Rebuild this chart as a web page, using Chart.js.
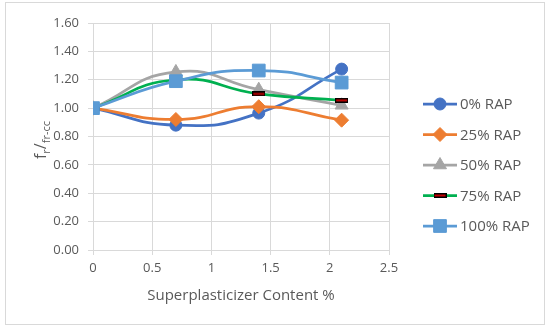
<!DOCTYPE html>
<html>
<head>
<meta charset="utf-8">
<script src="https://cdn.jsdelivr.net/npm/chart.js@4.4.1/dist/chart.umd.min.js"></script>
<style>
  body { margin: 0; background: #fff; }
  #wrap { position: relative; width: 550px; height: 330px; }
  #frame { position: absolute; left: 5px; top: 2px; width: 540px; height: 323px; border: 1px solid #d9d9d9; box-sizing: border-box; pointer-events: none; }
  #ytitle { position: absolute; left: 41px; top: 140px; transform: translate(-50%, -50%) rotate(-90deg); font: 16px "Open Sans"; color: #595959; white-space: nowrap; }
  #ytitle sub { font-size: 11px; }
</style>
</head>
<body>
<div id="wrap">
  <canvas id="chart" width="550" height="330"></canvas>
  <div id="frame"></div>
  <div id="ytitle">f<sub>r</sub>/<sub>fr-cc</sub></div>
</div>
<script>
// data
const spContent = [0, 0.7, 1.4, 2.1];
const seriesNames = ['0% RAP', '25% RAP', '50% RAP', '75% RAP', '100% RAP'];
const rap0 = [1.00, 0.88, 0.965, 1.275];
const rap25 = [1.00, 0.92, 1.01, 0.915];
const rap50 = [1.00, 1.255, 1.13, 1.02];
const rap75 = [1.00, 1.20, 1.10, 1.055];
const rap100 = [1.00, 1.19, 1.265, 1.18];
const xTicks = [0, 0.5, 1, 1.5, 2, 2.5];
const yTicks = [0, 0.2, 0.4, 0.6, 0.8, 1.0, 1.2, 1.4, 1.6];

const fontFamily = '"Open Sans", sans-serif';
const textColor = '#595959';
const gridColor = '#d9d9d9';

// 75% RAP marker is a little dash (black with red core)
function makeDash() {
    const c = document.createElement('canvas');
    c.width = 13;
    c.height = 5;
    const g = c.getContext('2d');
    g.fillStyle = '#000000';
    g.fillRect(0, 0, 13, 5);
    g.fillStyle = '#c00000';
    g.fillRect(1, 1.5, 11, 2);
    return c;
}
const dashMarker = makeDash();

const seriesValues = [rap0, rap25, rap50, rap75, rap100];
const seriesColors = ['#4472c4', '#ed7d31', '#a5a5a5', '#00b050', '#5b9bd5'];
const markerStyles = ['circle', 'rectRot', 'triangle', dashMarker, 'rect'];
const markerSizes = [6, 7, 7.5, 6, 9];

const datasets = seriesNames.map((name, i) => ({
    label: name,
    data: spContent.map((x, j) => ({ x: x, y: seriesValues[i][j] })),
    borderColor: seriesColors[i],
    backgroundColor: seriesColors[i],
    borderWidth: 2.75,
    pointStyle: markerStyles[i],
    pointRadius: markerSizes[i],
    pointHoverRadius: markerSizes[i],
    pointBorderWidth: 1,
    tension: 0.5,
    order: seriesNames.length - i // later series on top, like Excel
}));

// legend on the right: line + marker + label
const sideLegend = {
    id: 'sideLegend',
    afterDraw(chart) {
        const ctx = chart.ctx;
        const x0 = chart.chartArea.right + 34;
        const lineLen = 34;
        const gap = 30.5;
        const yStart = chart.height / 2 - gap * 2;
        ctx.save();
        chart.data.datasets.forEach((ds, i) => {
            const y = yStart + i * gap;
            ctx.strokeStyle = ds.borderColor;
            ctx.lineWidth = ds.borderWidth;
            ctx.beginPath();
            ctx.moveTo(x0, y);
            ctx.lineTo(x0 + lineLen, y);
            ctx.stroke();
            ctx.fillStyle = ds.backgroundColor;
            ctx.lineWidth = 1;
            Chart.helpers.drawPoint(ctx, {
                pointStyle: ds.pointStyle,
                radius: ds.pointRadius,
                borderWidth: 1,
                rotation: 0
            }, x0 + lineLen / 2, y);
            ctx.fillStyle = textColor;
            ctx.font = '15px ' + fontFamily;
            ctx.textBaseline = 'middle';
            ctx.textAlign = 'left';
            ctx.fillText(ds.label, x0 + lineLen + 3, y + 1);
        });
        ctx.restore();
    }
};

new Chart(document.getElementById('chart'), {
    type: 'line',
    data: { datasets: datasets },
    plugins: [sideLegend],
    options: {
        responsive: false,
        animation: false,
        layout: { padding: { left: 10, top: 23, right: 161, bottom: 10 } },
        plugins: {
            legend: { display: false },
            tooltip: { enabled: false }
        },
        scales: {
            x: {
                type: 'linear',
                min: 0,
                max: 2.5,
                afterBuildTicks: s => { s.ticks = xTicks.map(v => ({ value: v })); },
                afterFit: s => { s.height = 70; },
                grid: { color: gridColor, tickLength: 5 },
                border: { color: gridColor },
                ticks: {
                    color: textColor,
                    font: { family: fontFamily, size: 13 },
                    padding: 5,
                    maxRotation: 0,
                    callback: v => String(v)
                },
                title: {
                    display: true,
                    text: 'Superplasticizer Content %',
                    color: textColor,
                    font: { family: fontFamily, size: 15 },
                    padding: { top: 0, bottom: 15 }
                }
            },
            y: {
                min: 0,
                max: 1.6,
                afterBuildTicks: s => { s.ticks = yTicks.map(v => ({ value: v })); },
                afterFit: s => { s.width = 83; },
                grid: { color: gridColor, tickLength: 5 },
                border: { color: gridColor },
                ticks: {
                    color: textColor,
                    font: { family: fontFamily, size: 13 },
                    padding: 9,
                    callback: v => v.toFixed(2)
                }
            }
        }
    }
});
</script>
</body>
</html>
